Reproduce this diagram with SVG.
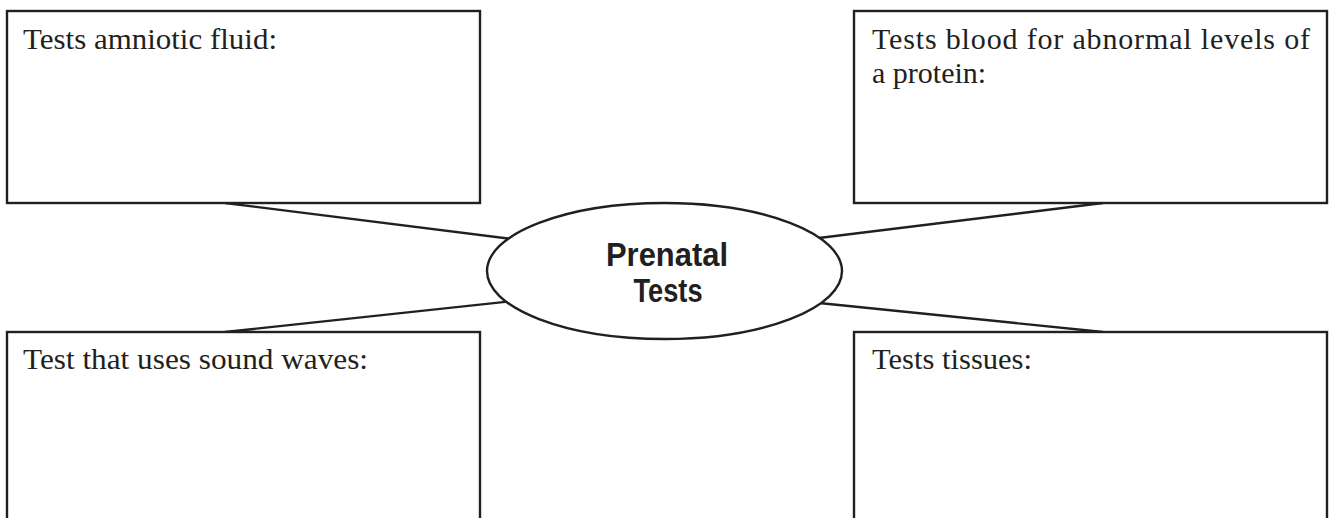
<svg xmlns="http://www.w3.org/2000/svg" width="1329" height="518" viewBox="0 0 1329 518">
<style>
.box{fill:#fff;stroke:#231f20;stroke-width:2.4}
.conn{stroke:#231f20;stroke-width:2.4;fill:none}
.lbl{font-family:"Liberation Serif","DejaVu Serif",serif;font-size:30px;fill:#231f20}
.ctr{font-family:"Liberation Sans",Arial,sans-serif;font-weight:bold;font-size:34px;fill:#231f20}
</style>
<rect width="1329" height="518" fill="#fff"/>
<g id="connectors">
<line class="conn" x1="225" y1="203" x2="560" y2="245"/>
<line class="conn" x1="1103" y1="203" x2="770" y2="244"/>
<line class="conn" x1="225" y1="332" x2="560" y2="296"/>
<line class="conn" x1="1103" y1="332" x2="770" y2="298"/>
</g>
<g id="box-amniotic">
<rect class="box" x="7" y="11" width="473" height="192"/>
<text class="lbl" x="23" y="49" textLength="254" lengthAdjust="spacingAndGlyphs">Tests amniotic fluid:</text>
</g>
<g id="box-blood">
<rect class="box" x="854" y="11" width="473" height="192"/>
<text class="lbl" x="872" y="49" textLength="438" lengthAdjust="spacing">Tests blood for abnormal levels of</text>
<text class="lbl" x="872" y="83">a protein:</text>
</g>
<g id="box-sound">
<rect class="box" x="7" y="332" width="473" height="200"/>
<text class="lbl" x="23" y="369" textLength="345" lengthAdjust="spacingAndGlyphs">Test that uses sound waves:</text>
</g>
<g id="box-tissues">
<rect class="box" x="854" y="332" width="473" height="200"/>
<text class="lbl" x="872" y="369" textLength="160" lengthAdjust="spacingAndGlyphs">Tests tissues:</text>
</g>
<g id="center">
<ellipse class="box" cx="664.5" cy="271" rx="177.5" ry="68"/>
<text class="ctr" x="667" y="266" text-anchor="middle" textLength="122" lengthAdjust="spacingAndGlyphs">Prenatal</text>
<text class="ctr" x="668" y="302" text-anchor="middle" textLength="69" lengthAdjust="spacingAndGlyphs">Tests</text>
</g>
</svg>
